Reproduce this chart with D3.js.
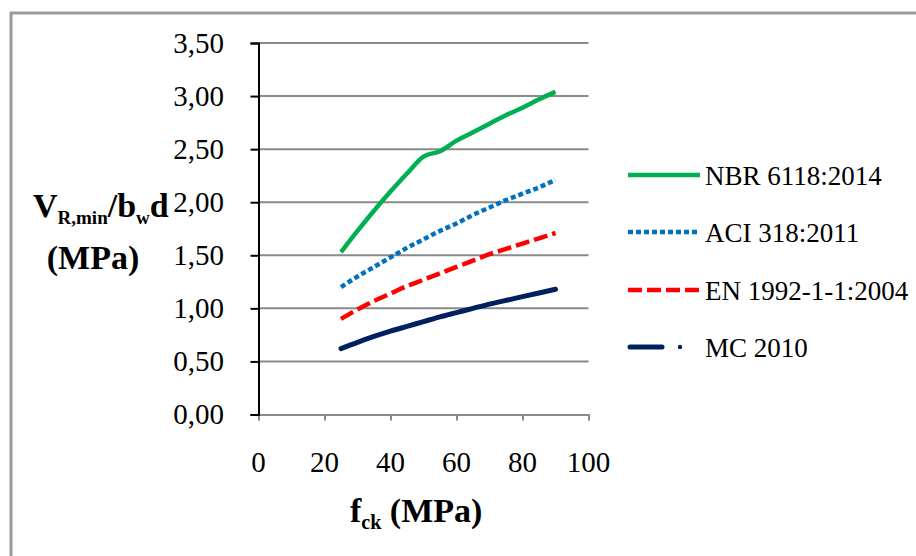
<!DOCTYPE html>
<html>
<head>
<meta charset="utf-8">
<script src="https://cdn.jsdelivr.net/npm/d3@7"></script>
<style>
  html, body { margin: 0; padding: 0; background: #fff; }
  svg { display: block; }
  text { font-family: "Liberation Serif", "Times New Roman", serif; fill: #000; }
</style>
</head>
<body>
<svg id="chart" width="916" height="556"></svg>
<script>
// ---- Data ----
const fck = [25, 30, 35, 40, 45, 50, 55, 60, 65, 70, 75, 80, 85, 90];
const nbr = [1.53, 1.73, 1.92, 2.10, 2.27, 2.43, 2.48, 2.58, 2.66, 2.74, 2.82, 2.89, 2.97, 3.04];
const aci = [1.20, 1.30, 1.39, 1.48, 1.57, 1.65, 1.73, 1.80, 1.88, 1.95, 2.02, 2.08, 2.14, 2.21];
const en  = [0.90, 0.99, 1.07, 1.14, 1.21, 1.27, 1.33, 1.39, 1.45, 1.51, 1.56, 1.61, 1.66, 1.71];
const mc  = [0.62, 0.68, 0.735, 0.785, 0.83, 0.875, 0.92, 0.96, 1.00, 1.04, 1.075, 1.11, 1.145, 1.18];
const seriesNames = ["NBR 6118:2014", "ACI 318:2011", "EN 1992-1-1:2004", "MC 2010"];
const seriesColors = ["#00B050", "#0070C0", "#FF0000", "#002060"];
const yTicks = [0, 0.5, 1.0, 1.5, 2.0, 2.5, 3.0, 3.5];
const yTickLabels = ["0,00", "0,50", "1,00", "1,50", "2,00", "2,50", "3,00", "3,50"];
const xTicks = [0, 20, 40, 60, 80, 100];
const xTickLabels = ["0", "20", "40", "60", "80", "100"];

const seriesValues = [nbr, aci, en, mc];
const dashes = [null, "5,3", "14,5", null];

const svg = d3.select("#chart");
svg.append("rect").attr("width", 916).attr("height", 556).attr("fill", "#fff");

// outer frame (only left & top visible)
svg.append("line").attr("x1", 11).attr("y1", 12).attr("x2", 11).attr("y2", 556)
  .attr("stroke", "#9a9a9a").attr("stroke-width", 3);
svg.append("line").attr("x1", 10).attr("y1", 13).attr("x2", 916).attr("y2", 13)
  .attr("stroke", "#9a9a9a").attr("stroke-width", 3);

const x = d3.scaleLinear().domain([0, 100]).range([258.5, 588.5]);
const y = d3.scaleLinear().domain([0, 3.5]).range([414.5, 43]);

// gridlines
svg.append("g").selectAll("line").data(yTicks.filter(d => d > 0)).join("line")
  .attr("x1", x(0)).attr("x2", x(100))
  .attr("y1", d => y(d)).attr("y2", d => y(d))
  .attr("stroke", "#8a8a8a").attr("stroke-width", 2);

// x axis (gray)
const xAxis = d3.axisBottom(x).tickValues(xTicks).tickSize(6).tickFormat(() => "");
const gx = svg.append("g").attr("transform", `translate(0,${y(0)})`).call(xAxis);
gx.select(".domain").attr("stroke", "#8a8a8a").attr("stroke-width", 2);
gx.selectAll(".tick line").attr("stroke", "#8a8a8a").attr("stroke-width", 2);
svg.append("g").selectAll("text").data(xTicks).join("text")
  .attr("x", d => x(d)).attr("y", 472)
  .attr("text-anchor", "middle").attr("font-size", 29)
  .text((d, i) => xTickLabels[i]);

// y axis (black)
const yAxis = d3.axisLeft(y).tickValues(yTicks).tickSize(8).tickFormat(() => "");
const gy = svg.append("g").attr("transform", `translate(${x(0)},0)`).call(yAxis);
gy.select(".domain").attr("stroke", "#000").attr("stroke-width", 2);
gy.selectAll(".tick line").attr("stroke", "#000").attr("stroke-width", 2);
svg.append("g").selectAll("text").data(yTicks).join("text")
  .attr("x", 224).attr("y", d => y(d) + 9.5)
  .attr("text-anchor", "end").attr("font-size", 29)
  .text((d, i) => yTickLabels[i]);

// series lines
const line = d3.line().x((d, i) => x(fck[i])).y(d => y(d)).curve(d3.curveMonotoneX);
seriesValues.forEach((vals, k) => {
  const p = svg.append("path").datum(vals)
    .attr("d", line)
    .attr("fill", "none")
    .attr("stroke", seriesColors[k])
    .attr("stroke-width", k === 3 ? 5 : 4.5)
    .attr("stroke-linecap", k === 3 ? "round" : "butt");
  if (dashes[k]) p.attr("stroke-dasharray", dashes[k]);
});

// legend
const legY = [175, 232, 290, 347];
const leg = svg.append("g");
seriesNames.forEach((name, k) => {
  const g = leg.append("g").attr("transform", `translate(0,${legY[k]})`);
  if (k === 3) {
    g.append("line").attr("x1", 630).attr("x2", 662).attr("y1", 0).attr("y2", 0)
      .attr("stroke", seriesColors[k]).attr("stroke-width", 5).attr("stroke-linecap", "round");
    g.append("circle").attr("cx", 680).attr("cy", 0).attr("r", 2.2).attr("fill", seriesColors[k]);
  } else {
    const l = g.append("line").attr("x1", 628).attr("x2", 700).attr("y1", 0).attr("y2", 0)
      .attr("stroke", seriesColors[k]).attr("stroke-width", 4.5);
    if (dashes[k]) l.attr("stroke-dasharray", dashes[k]);
  }
  g.append("text").attr("x", 705).attr("y", 9.5).attr("font-size", 27).text(name);
});

// y axis title
const yt = svg.append("text").attr("x", 33).attr("y", 217)
  .attr("font-size", 34).attr("font-weight", "bold");
yt.append("tspan").text("V");
yt.append("tspan").attr("font-size", 19).attr("dy", 7).text("R,min");
yt.append("tspan").attr("dy", -7).text("/b");
yt.append("tspan").attr("font-size", 19).attr("dy", 7).text("w");
yt.append("tspan").attr("dy", -7).text("d");
svg.append("text").attr("x", 93).attr("y", 269).attr("text-anchor", "middle")
  .attr("font-size", 34).attr("font-weight", "bold").text("(MPa)");

// x axis title
const xt = svg.append("text").attr("x", 350).attr("y", 522)
  .attr("font-size", 34).attr("font-weight", "bold");
xt.append("tspan").text("f");
xt.append("tspan").attr("font-size", 20).attr("dy", 7).text("ck");
xt.append("tspan").attr("dy", -7).text(" (MPa)");
</script>
</body>
</html>
